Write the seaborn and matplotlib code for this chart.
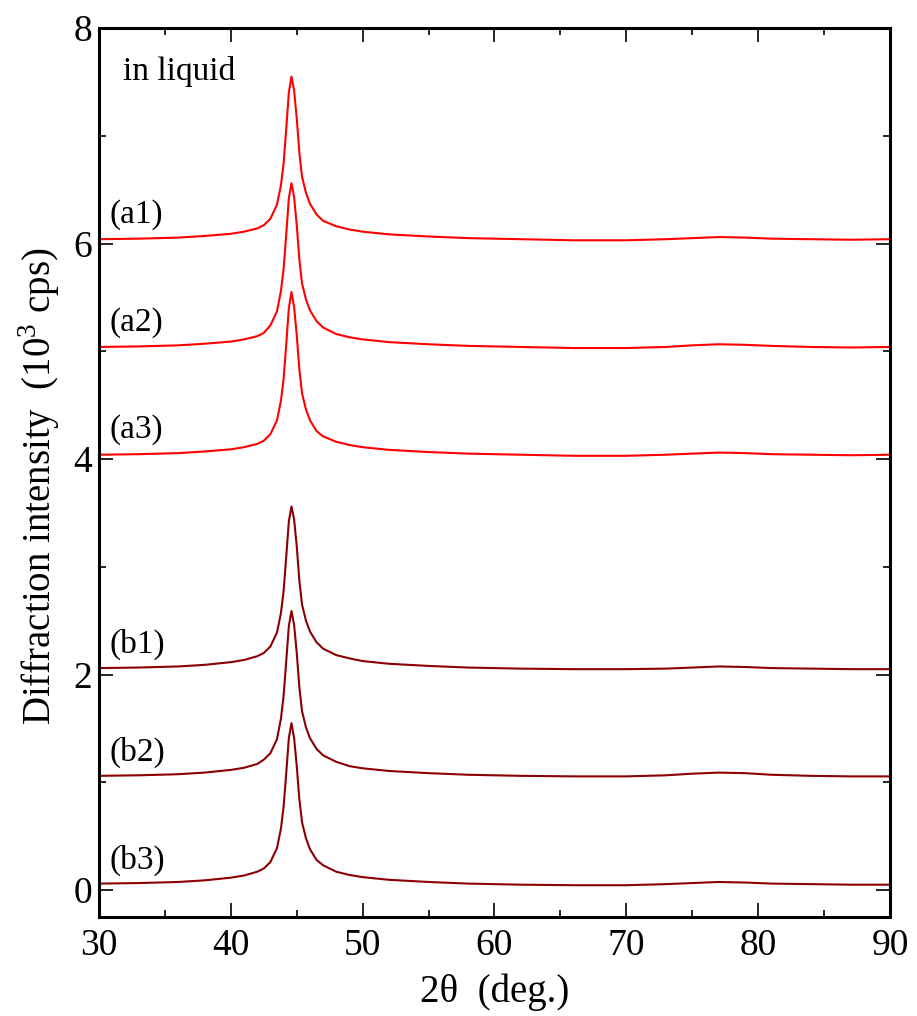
import numpy as np
import pandas as pd
import matplotlib
matplotlib.use('Agg')
import matplotlib.pyplot as plt
import seaborn as sns
from matplotlib.ticker import MultipleLocator

# 2theta sample points (deg.)
two_theta = [30, 33, 36, 38, 40, 41, 42, 42.5, 43, 43.5, 43.8, 44.0, 44.2, 44.4, 44.6,
             44.8, 45.0, 45.2, 45.4, 45.7, 46.0, 46.5, 47, 48, 49, 50, 52, 55, 58, 62,
             66, 70, 73, 75, 77, 79, 81, 84, 87, 90]

# intensity above each pattern's own baseline (10^3 cps)
a1 = [0.00, 0.005, 0.015, 0.03, 0.05, 0.07, 0.10, 0.13, 0.19, 0.32, 0.50, 0.70, 1.02, 1.36, 1.51,
      1.38, 1.12, 0.80, 0.58, 0.43, 0.33, 0.23, 0.17, 0.12, 0.09, 0.07, 0.045, 0.025, 0.01, 0.0,
      -0.01, -0.01, 0.0, 0.01, 0.02, 0.015, 0.005, 0.0, -0.005, 0.0]
a2 = [0.00, 0.005, 0.015, 0.03, 0.05, 0.07, 0.10, 0.13, 0.20, 0.33, 0.52, 0.72, 1.04, 1.38, 1.52,
      1.39, 1.13, 0.81, 0.59, 0.44, 0.34, 0.24, 0.18, 0.12, 0.09, 0.07, 0.045, 0.025, 0.01, 0.0,
      -0.01, -0.01, 0.0, 0.015, 0.025, 0.02, 0.01, 0.0, -0.005, 0.0]
a3 = [0.00, 0.005, 0.015, 0.03, 0.05, 0.07, 0.10, 0.13, 0.19, 0.32, 0.50, 0.70, 1.02, 1.36, 1.51,
      1.37, 1.11, 0.79, 0.57, 0.42, 0.32, 0.22, 0.17, 0.12, 0.09, 0.07, 0.045, 0.025, 0.01, 0.0,
      -0.01, -0.01, 0.0, 0.01, 0.02, 0.015, 0.005, 0.0, -0.005, 0.0]
b1 = [0.01, 0.015, 0.025, 0.04, 0.065, 0.085, 0.12, 0.15, 0.21, 0.34, 0.52, 0.72, 1.04, 1.37, 1.51,
      1.39, 1.14, 0.82, 0.60, 0.45, 0.35, 0.25, 0.19, 0.13, 0.10, 0.075, 0.05, 0.03, 0.015, 0.005,
      0.0, 0.0, 0.005, 0.015, 0.025, 0.02, 0.01, 0.005, 0.0, 0.0]
b2 = [0.01, 0.015, 0.025, 0.04, 0.065, 0.085, 0.12, 0.16, 0.22, 0.35, 0.54, 0.75, 1.07, 1.40, 1.54,
      1.41, 1.15, 0.83, 0.61, 0.46, 0.36, 0.26, 0.20, 0.14, 0.10, 0.08, 0.055, 0.035, 0.02, 0.01,
      0.005, 0.005, 0.015, 0.03, 0.04, 0.035, 0.02, 0.01, 0.005, 0.005]
b3 = [0.01, 0.015, 0.025, 0.04, 0.065, 0.085, 0.12, 0.15, 0.21, 0.34, 0.52, 0.72, 1.03, 1.36, 1.50,
      1.36, 1.10, 0.79, 0.58, 0.43, 0.33, 0.23, 0.18, 0.12, 0.09, 0.07, 0.045, 0.025, 0.01, 0.0,
      -0.005, -0.005, 0.005, 0.015, 0.025, 0.02, 0.01, 0.005, 0.0, 0.0]

labels = ['(a1)', '(a2)', '(a3)', '(b1)', '(b2)', '(b3)']
baselines = [6.04, 5.04, 4.04, 2.05, 1.05, 0.05]
colors = ['#ff0000', '#ff0000', '#ff0000', '#8b0000', '#8b0000', '#8b0000']

rows = []
for lab, base, vals in zip(labels, baselines, [a1, a2, a3, b1, b2, b3]):
    for tt, v in zip(two_theta, vals):
        rows.append({'two_theta': tt, 'intensity': base + v, 'sample': lab})
df = pd.DataFrame(rows)

sns.set_style('ticks')
plt.rcParams['font.family'] = ['Liberation Serif', 'DejaVu Serif']
plt.rcParams['mathtext.fontset'] = 'custom'
plt.rcParams['mathtext.rm'] = 'Liberation Serif'
plt.rcParams['text.color'] = 'black'
plt.rcParams['axes.labelcolor'] = 'black'
plt.rcParams['xtick.color'] = 'black'
plt.rcParams['ytick.color'] = 'black'

fig = plt.figure(figsize=(9.17, 10.16), dpi=100)
ax = fig.add_axes([99 / 917, 1 - 917 / 1016, (890 - 99) / 917, (917 - 28) / 1016])

sns.lineplot(data=df, x='two_theta', y='intensity', hue='sample', palette=dict(zip(labels, colors)),
             legend=False, linewidth=1.5, estimator=None, sort=False, ax=ax)

for lab, base in zip(labels, baselines):
    ax.text(30.8, base + 0.23, lab, fontsize=24, ha='left', va='center', color='black')
ax.text(31.8, 7.52, 'in liquid', fontsize=24, ha='left', va='baseline', color='black')

ax.set_xlim(30, 90)
ax.set_ylim(-0.25, 8)
ax.xaxis.set_major_locator(MultipleLocator(10))
ax.xaxis.set_minor_locator(MultipleLocator(5))
ax.yaxis.set_major_locator(MultipleLocator(2))
ax.yaxis.set_minor_locator(MultipleLocator(1))
ax.tick_params(which='both', direction='in', top=True, right=True, width=1.2, colors='black')
ax.tick_params(which='major', length=10, labelsize=27)
ax.tick_params(axis='x', which='major', pad=8)
ax.tick_params(axis='y', which='major', pad=5)
ax.tick_params(which='minor', length=5)
for s in ax.spines.values():
    s.set_linewidth(2.2)
    s.set_color('black')

ax.set_xlabel('2θ  (deg.)', fontsize=28, labelpad=8)
ax.set_ylabel(r'Diffraction intensity  (10$^{3}$ cps)', fontsize=28)
ax.yaxis.set_label_coords(-0.047, 0.485)

fig.savefig('out.png', dpi=100)
